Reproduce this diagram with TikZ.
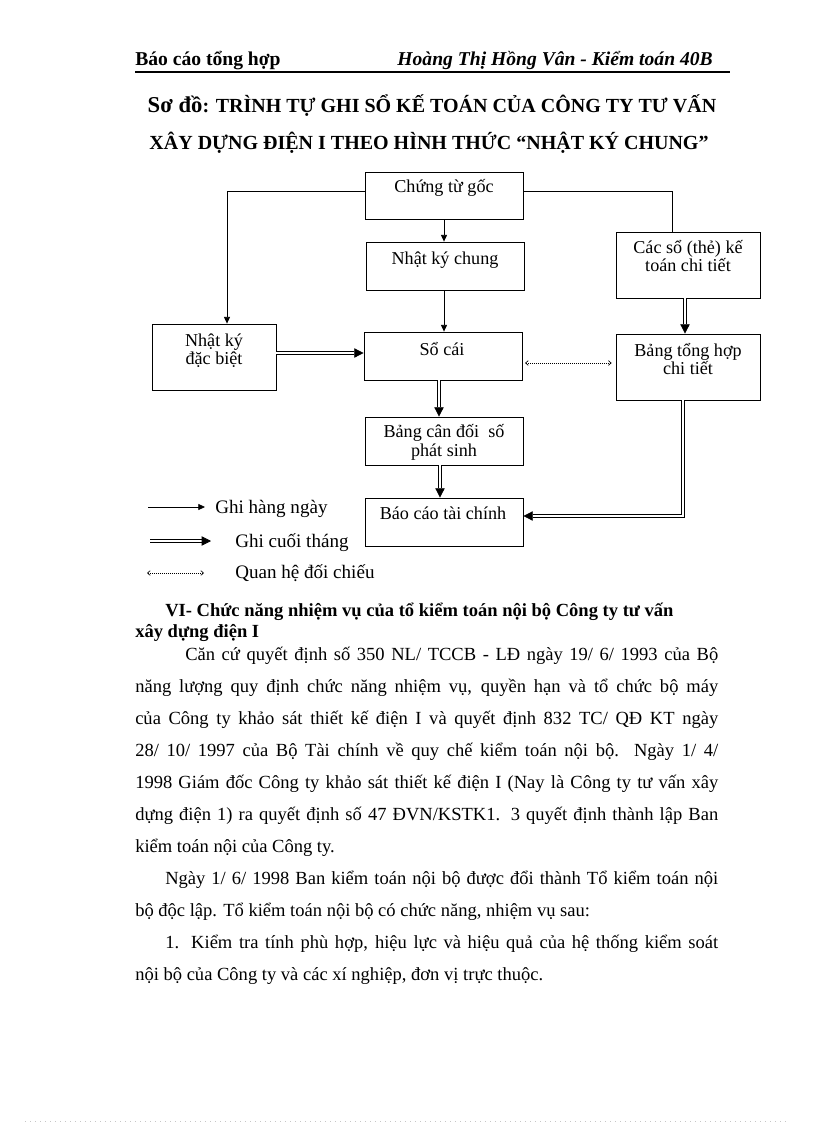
\documentclass[tikz,border=0pt]{standalone}
\usepackage{fontspec}
\setmainfont{Liberation Serif}
\usetikzlibrary{arrows.meta,fit,calc}
\begin{document}
\begin{tikzpicture}[x=0.75pt,y=-0.75pt,
  frame/.style={draw, line width=0.6pt, inner sep=0pt},
  boxtxt/.style={font=\fontsize{13.6}{15}\selectfont, inner sep=0pt, anchor=base},
  legtxt/.style={font=\fontsize{14.3}{16}\selectfont, inner sep=0pt, anchor=base west},
  body/.style={font=\fontsize{13.9}{16}\selectfont, inner sep=0pt, anchor=base west},
  bodyb/.style={font=\fontsize{13.9}{16}\selectfont\bfseries, inner sep=0pt, anchor=base west},
  thinline/.style={line width=0.6pt},
  thinarrow/.style={line width=0.6pt, -{Triangle[length=5pt,width=4.5pt]}},
  dblarrow/.style={double, double distance=1.2pt, line width=0.6pt, -{Triangle[length=7pt,width=7pt]}},
  dotarrow/.style={line width=0.5pt, dash pattern=on 0.6pt off 0.9pt, {Straight Barb[length=2pt,width=3.5pt]}-{Straight Barb[length=2pt,width=3.5pt]}}
]
\useasboundingbox (0,0) rectangle (816,1123);
\fill[white] (0,0) rectangle (816,1123);

% header
\node[inner sep=0pt, anchor=base west, font=\fontsize{14.7}{16}\selectfont\bfseries] (hl) at (135,66) {Báo cáo tổng hợp};
\node[inner sep=0pt, anchor=base east, font=\fontsize{14.7}{16}\selectfont\bfseries\itshape] (hr) at (713,66) {Hoàng Thị Hồng Vân - Kiểm toán 40B};
\coordinate (ruleA) at (135,72);
\coordinate (ruleB) at (730,72);
\draw[line width=0.8pt] (ruleA) -- (ruleB);

% title
\node[inner sep=0pt, anchor=base, font=\fontsize{15}{18}\selectfont\bfseries] (title1) at (432,113) {{\fontsize{17}{20}\selectfont Sơ đồ}: TRÌNH TỰ GHI SỔ KẾ TOÁN CỦA CÔNG TY TƯ VẤN};
\node[inner sep=0pt, anchor=base, font=\fontsize{15}{18}\selectfont\bfseries] (title2) at (429,150) {XÂY DỰNG ĐIỆN I THEO HÌNH THỨC “NHẬT KÝ CHUNG”};

% boxes
\node[frame, fit={(365,172) (523,219)}] (cg) {};
\node[boxtxt] (cgt) at (444,193) {Chứng từ gốc};
\node[frame, fit={(366,242) (524,290)}] (nkc) {};
\node[boxtxt] (nkct) at (445,264) {Nhật ký chung};
\node[frame, fit={(616,232) (760,298)}] (cs) {};
\node[boxtxt] (cst1) at (688,253) {Các sổ (thẻ) kế};
\node[boxtxt] (cst2) at (688,271) {toán chi tiết};
\node[frame, fit={(152,324) (276,390)}] (nkdb) {};
\node[boxtxt] (nkdbt1) at (214,346) {Nhật ký};
\node[boxtxt] (nkdbt2) at (214,364) {đặc biệt};
\node[frame, fit={(364,332) (522,380)}] (sc) {};
\node[boxtxt] (sct) at (442,355) {Sổ cái};
\node[frame, fit={(616,334) (760,400)}] (btct) {};
\node[boxtxt] (btctt1) at (688,356) {Bảng tổng hợp};
\node[boxtxt] (btctt2) at (688,374) {chi tiết};
\node[frame, fit={(365,417) (523,465)}] (bcd) {};
\node[boxtxt] (bcdt1) at (444,437) {Bảng cân đối\ \ số};
\node[boxtxt] (bcdt2) at (444,456) {phát sinh};
\node[frame, fit={(365,498) (523,546)}] (bctc) {};
\node[boxtxt] (bctct) at (443,519) {Báo cáo tài chính};

% connectors
\draw[thinarrow] ([yshift=3.4pt]cg.west) -| ([xshift=9.75pt]nkdb.north);
\draw[thinline] ([yshift=3.4pt]cg.east) -| ([xshift=-12pt]cs.north);
\draw[thinarrow] (cg.south) -- (cg.south |- nkc.north);
\draw[thinarrow] ([xshift=-0.75pt]nkc.south) -- ([xshift=-0.75pt]nkc.south |- sc.north);
\draw[dblarrow] ([yshift=3pt]nkdb.east) -- ([yshift=3pt]nkdb.east -| sc.west);
\draw[dotarrow] ([xshift=2pt,yshift=-5.25pt]sc.east) -- ([xshift=-3pt,yshift=-5.25pt]sc.east -| btct.west);
\draw[dblarrow] ([xshift=-3pt]sc.south) -- ([xshift=-3pt]sc.south |- bcd.north);
\draw[dblarrow] ([xshift=-3pt]bcd.south) -- ([xshift=-3pt]bcd.south |- bctc.north);
\draw[dblarrow] ([xshift=-2.25pt]cs.south) -- ([xshift=-2.25pt]cs.south |- btct.north);
\draw[dblarrow] ([xshift=-3.75pt]btct.south) |- ([yshift=4.5pt]bctc.east);

% legend
\coordinate (l1a) at (148,507); \coordinate (l1b) at (205,507);
\draw[thinarrow] (l1a) -- (l1b);
\node[legtxt] (l1t) at (215,513) {Ghi hàng ngày};
\coordinate (l2a) at (150,541); \coordinate (l2b) at (211,541);
\draw[dblarrow] (l2a) -- (l2b);
\node[legtxt] (l2t) at (235,547) {Ghi cuối tháng};
\coordinate (l3a) at (147,573); \coordinate (l3b) at (204,573);
\draw[dotarrow] (l3a) -- (l3b);
\node[legtxt] (l3t) at (235,578) {Quan hệ đối chiếu};

% body text
\node[bodyb] (p0a) at (165,616) {VI- Chức năng nhiệm vụ của tổ kiểm toán nội bộ Công ty tư vấn};
\node[bodyb] (p0b) at (135,637) {xây dựng điện I};
\node[body] (p1a) at (185,660) {\makebox[399.75pt][s]{Căn cứ quyết định số 350 NL/ TCCB - LĐ ngày 19/ 6/ 1993 của Bộ}};
\node[body] (p1b) at (135,692) {\makebox[437.25pt][s]{năng lượng quy định chức năng nhiệm vụ, quyền hạn và tổ chức bộ máy}};
\node[body] (p1c) at (135,724) {\makebox[437.25pt][s]{của Công ty khảo sát thiết kế điện I và quyết định 832 TC/ QĐ KT ngày}};
\node[body] (p1d) at (135,756) {\makebox[437.25pt][s]{28/ 10/ 1997 của Bộ Tài chính về quy chế kiểm toán nội bộ. Ngày 1/ 4/}};
\node[body] (p1e) at (135,788) {\makebox[437.25pt][s]{1998 Giám đốc Công ty khảo sát thiết kế điện I (Nay là Công ty tư vấn xây}};
\node[body] (p1f) at (135,820) {\makebox[437.25pt][s]{dựng điện 1) ra quyết định số 47 ĐVN/KSTK1. 3 quyết định thành lập Ban}};
\node[body] (p1g) at (135,852) {kiểm toán nội của Công ty.};
\node[body] (p2a) at (165,884) {\makebox[414.75pt][s]{Ngày 1/ 6/ 1998 Ban kiểm toán nội bộ được đổi thành Tổ kiểm toán nội}};
\node[body] (p2b) at (135,916) {bộ độc lập. Tổ kiểm toán nội bộ có chức năng, nhiệm vụ sau:};
\node[body] (p3a) at (165,948) {\makebox[414.75pt][s]{1. Kiểm tra tính phù hợp, hiệu lực và hiệu quả của hệ thống kiểm soát}};
\node[body] (p3b) at (135,980) {nội bộ của Công ty và các xí nghiệp, đơn vị trực thuộc.};

% faint page edge
\coordinate (edgeA) at (25,1121); \coordinate (edgeB) at (790,1121);
\draw[gray!45, line width=0.5pt, dash pattern=on 0.75pt off 3pt] (edgeA) -- (edgeB);
\end{tikzpicture}
\end{document}
